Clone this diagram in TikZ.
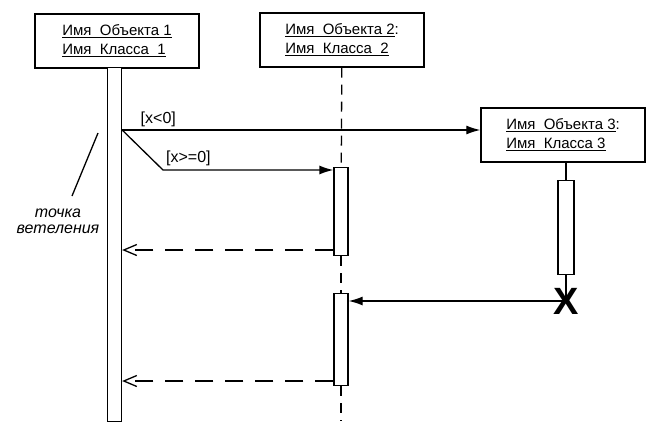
\documentclass[tikz,border=0pt]{standalone}
\usepackage{fontspec}
\setmainfont{Liberation Sans}
\usetikzlibrary{arrows.meta}

\begin{document}
\begin{tikzpicture}[x=1pt,y=-1pt,
    obj/.style={draw,line width=1.4pt,minimum width=164pt,minimum height=54pt,
        align=left,font=\fontsize{15}{19}\selectfont},
    act/.style={draw,line width=1.3pt,fill=white,minimum width=14pt,inner sep=0pt},
    call/.style={line width=1.3pt,-{Latex[length=14pt,width=9pt]}},
    reply/.style={line width=1.3pt,dash pattern=on 18pt off 12pt,
        -{Straight Barb[length=13pt,width=11pt]}},
    lbl/.style={font=\fontsize{16}{18}\selectfont,inner sep=0pt}]

\useasboundingbox (0,0) rectangle (647,421);

% Objects
\node[obj] (o1) at (117,41) {\underline{Имя\ \ Объекта 1}\\\underline{Имя\ \ Класса\ \ 1}};
\node[obj] (o2) at (342,40) {\underline{Имя\ \ Объекта 2}:\\\underline{Имя\ \ Класса\ \ 2}};
\node[obj] (o3) at (563,135) {\underline{Имя\ \ Объекта 3}:\\\underline{Имя\ \ Класса 3}};

% Activations
\node[act,minimum height=354pt,anchor=north] (a1) at (114.5,67) {};
\node[act,minimum height=88pt,anchor=north] (a2) at (341,167) {};
\node[act,minimum height=92pt,anchor=north] (a3) at (341,293) {};
\node[act,minimum height=94pt,anchor=north,minimum width=16pt] (a4) at (566,180) {};

% Lifeline 2
\coordinate (e2) at (341,421);
\draw[line width=1.3pt,dash pattern=on 10pt off 7pt] (o2) -- (a2);
\draw[line width=1.3pt,dash pattern=on 10pt off 7pt] (a2) -- (a3);
\draw[line width=1.3pt,dash pattern=on 10pt off 7pt] (a3) -- (e2);

% Lifeline 3 and destruction
\node[inner sep=0pt,font=\fontsize{38}{38}\selectfont\bfseries] (x3) at (566,301) {X};
\draw[line width=1.3pt] (o3.south -| a4) -- (a4);
\draw[line width=1.3pt] (a4) -- (x3.center);

% Branch point
\coordinate (br) at (a1.east |- 0,130);
\coordinate (bk) at (163,170);
\draw[call] (br) -- (o3.west |- br) node[lbl,pos=0.05,anchor=south west,yshift=3pt] (g1) {[x<0]};
\draw[call] (br) -- (bk) -- (a2.west |- bk);
\node[lbl,anchor=south west] (g2) at (166,166) {[x>=0]};

% Replies
\draw[reply] (a2.south west |- 0,250) -- (a1.east |- 0,250);
\draw[call] (x3.center) -- (a3.east |- x3);
\draw[reply] (a3.south west |- 0,381) -- (a1.east |- 0,381);

% Note
\node[align=center,inner sep=0pt,font=\fontsize{16}{16}\selectfont\itshape] (nt) at (58,221) {точка\\ветеления};
\coordinate (np) at (98,133);
\draw[line width=1.3pt] (np) -- (72,196);

\end{tikzpicture}
\end{document}
